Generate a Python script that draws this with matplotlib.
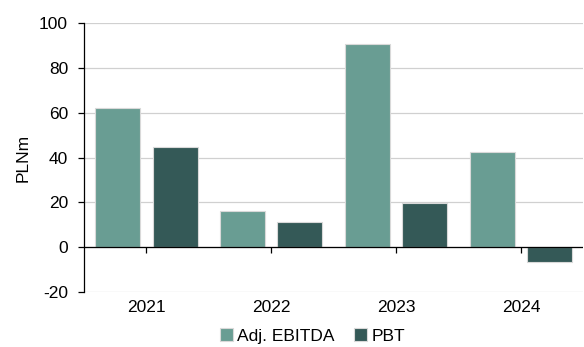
import numpy as np
import matplotlib.pyplot as plt

lata = ["2021", "2022", "2023", "2024"]
ebitda = [62.2, 16.0, 90.7, 42.5]
pbt = [44.7, 11.3, 19.7, -6.5]
serie = ["Adj. EBITDA", "PBT"]
kolory = ["#699d93", "#345957"]

plt.rcParams['font.family'] = ['Liberation Sans', 'DejaVu Sans']
plt.rcParams['font.size'] = 12.5
plt.rcParams['axes.unicode_minus'] = False

fig = plt.figure(figsize=(5.84, 3.47), dpi=100)
ax = fig.add_axes([0.1438, 0.1585, 0.855, 0.7752])

x = np.arange(len(lata))
w = 0.36
ax.bar(x - 0.23, ebitda, w, color=kolory[0], edgecolor="#d9d9d9", linewidth=0.8,
       label=serie[0], zorder=3)
ax.bar(x + 0.23, pbt, w, color=kolory[1], edgecolor="#d9d9d9", linewidth=0.8,
       label=serie[1], zorder=3)

ax.set_xlim(-0.5, 3.5)
ax.set_ylim(-20, 100)
ax.set_yticks(range(-20, 101, 20))
ax.grid(axis='y', color="#d0d0d0", linewidth=0.9, zorder=0)

# linia zera z kreskami pod kategoriami
ax.axhline(0, color="black", linewidth=0.9, zorder=4)
ax.plot(x, np.zeros(len(x)), linestyle='none', marker=3, markersize=4,
        markeredgewidth=0.9, color="black", zorder=4)

ax.set_xticks(x)
ax.set_xticklabels(lata)
ax.tick_params(axis='x', length=0, pad=6)
ax.tick_params(axis='y', length=4.5, width=0.9, direction='out', pad=7)

for s in ['top', 'right', 'bottom']:
    ax.spines[s].set_visible(False)
ax.spines['left'].set_linewidth(0.9)

ax.set_ylabel("PLNm", labelpad=6)

fig.legend(loc='lower center', bbox_to_anchor=(0.535, -0.035), ncol=2, frameon=False,
           handlelength=0.75, handleheight=0.75, handletextpad=0.25, columnspacing=1.1)

plt.savefig("out.png", dpi=100)
